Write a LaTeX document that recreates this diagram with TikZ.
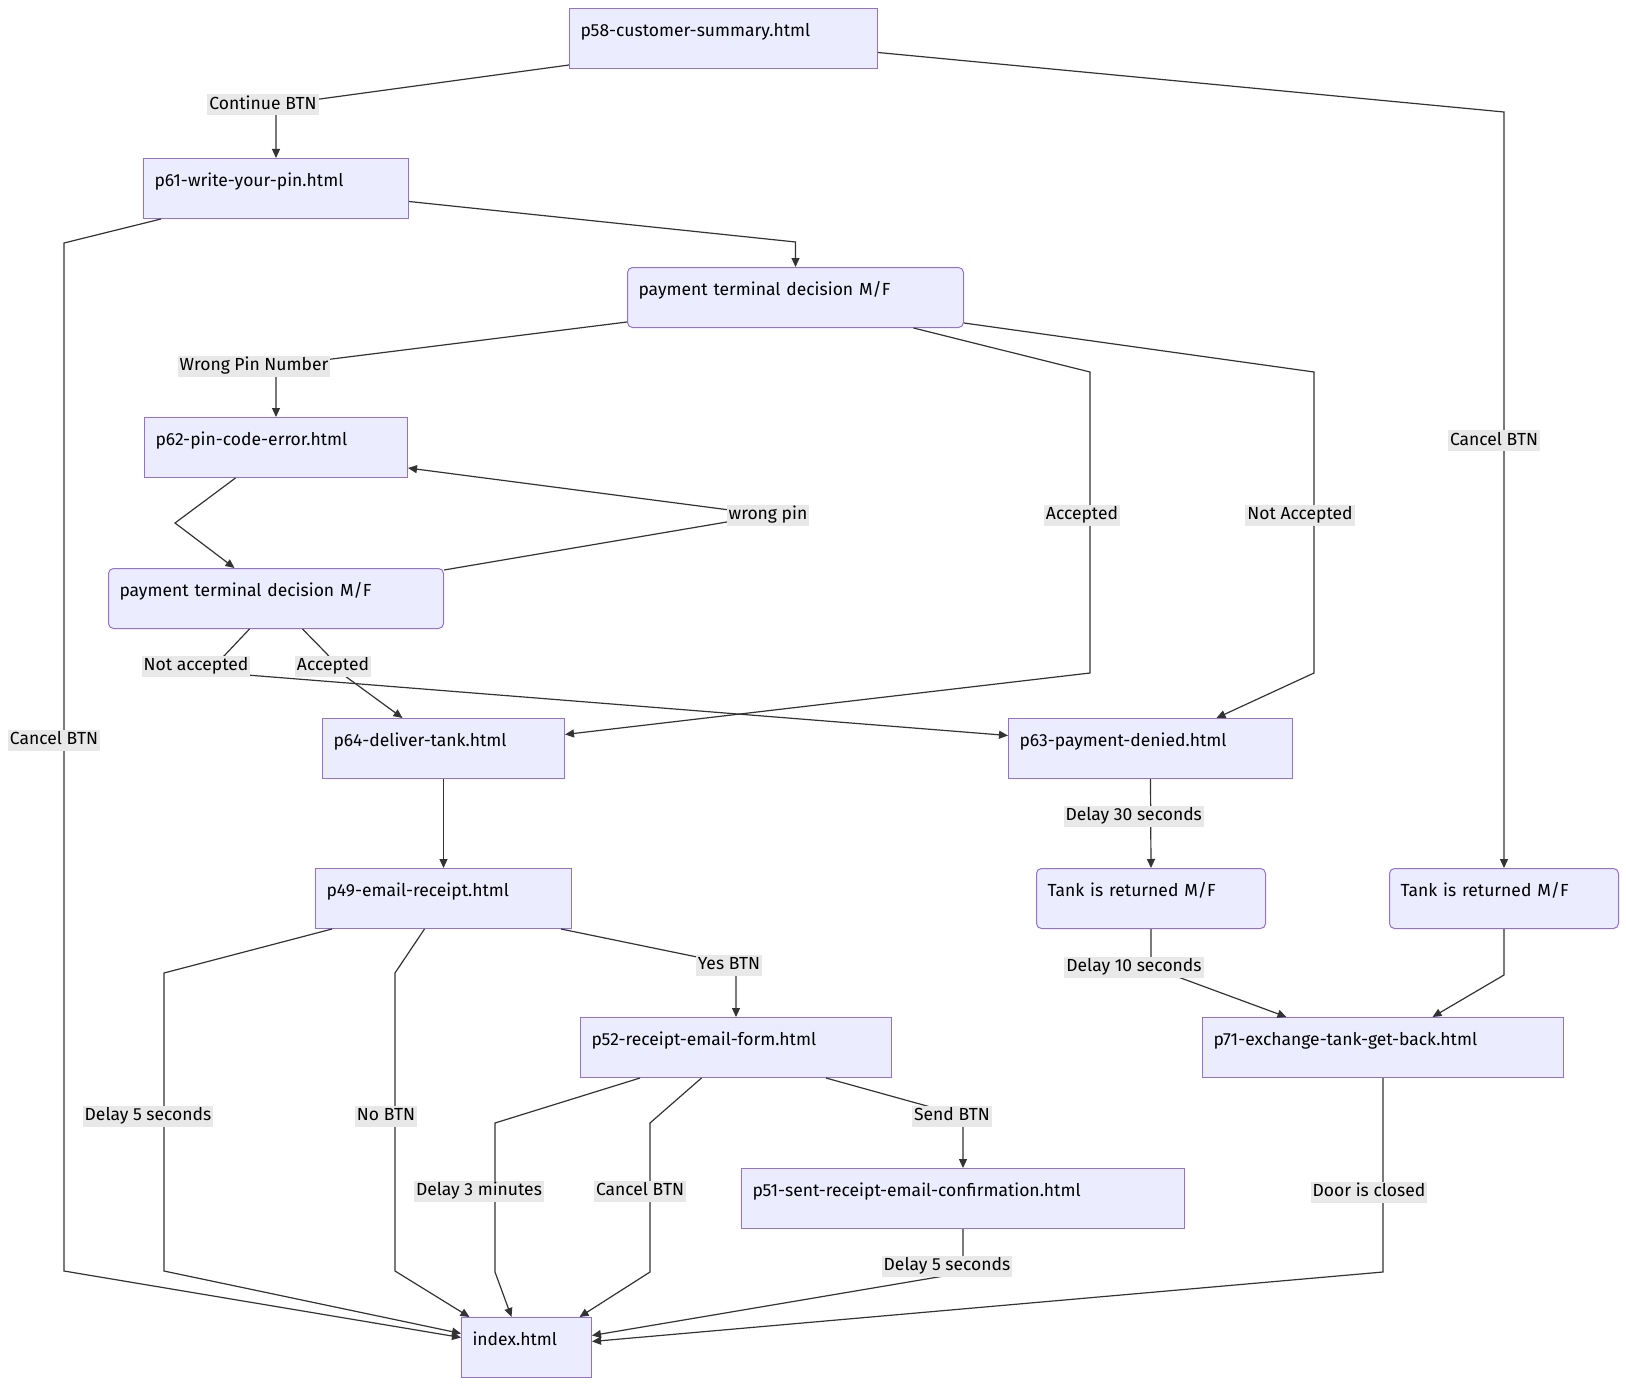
\documentclass[tikz,border=0pt]{standalone}
\usepackage{fontspec}
\setmainfont{Fira Sans}
\usepackage{tikz}
\usetikzlibrary{arrows.meta,calc,positioning}

\definecolor{pagefill}{HTML}{ECECFF}
\definecolor{pageline}{HTML}{9370DB}
\definecolor{edgeline}{HTML}{333333}
\definecolor{labelbg}{HTML}{E8E8E8}

\tikzset{
  page/.style={draw=pageline, fill=pagefill, line width=1pt, anchor=north west,
    inner xsep=11pt, inner ysep=15pt, text height=13pt, text depth=17pt,
    align=left, font=\fontsize{17.5}{21}\selectfont},
  decision/.style={page, rounded corners=5pt},
  flow/.style={draw=edgeline, line width=1.2pt, -{Triangle[length=9pt,width=8pt]}},
  elabel/.style={fill=labelbg, inner xsep=2pt, inner ysep=2pt,
    text height=13pt, text depth=4pt, font=\fontsize{17.5}{21}\selectfont},
}

\begin{document}
\begin{tikzpicture}[x=1pt, y=-1pt]
  % Layout positions (lanes of the long edges)
  \def\xcancelL{64}      % Cancel BTN, far left
  \def\xdelayL{164}      % Delay 5 seconds
  \def\xnobtn{395}       % No BTN
  \def\xaccept{1090}     % Accepted
  \def\xdenied{1314}     % Not Accepted

  \useasboundingbox (0,0) rectangle (1626,1386);

  % Pages
  \node[page, text width=286pt] (p58) at (569,8) {p58-customer-summary.html};
  \node[page, text width=243pt] (p61) at (143,158) {p61-write-your-pin.html};
  \node[decision, text width=314pt] (pay1) at (627,267) {payment terminal decision M/F};
  \node[page, text width=241pt] (p62) at (144,417) {p62-pin-code-error.html};
  \node[decision, text width=313pt] (pay2) at (108,568) {payment terminal decision M/F};
  \node[page, text width=220pt] (p64) at (322,718) {p64-deliver-tank.html};
  \node[page, text width=262pt] (p63) at (1008,718) {p63-payment-denied.html};
  \node[page, text width=234pt] (p49) at (315,868) {p49-email-receipt.html};
  \node[decision, text width=207pt] (tank1) at (1036,868) {Tank is returned M/F};
  \node[decision, text width=207pt] (tank2) at (1389,868) {Tank is returned M/F};
  \node[page, text width=289pt] (p52) at (580,1017) {p52-receipt-email-form.html};
  \node[page, text width=339pt] (p71) at (1202,1017) {p71-exchange-tank-get-back.html};
  \node[page, text width=421pt] (p51) at (741,1168) {p51-sent-receipt-email-confirmation.html};
  \node[page, text width=108pt] (index) at (461,1317) {index.html};

  % Summary and pin
  \draw[flow] ([yshift=4pt]p58.south west) -- (p61.north |- 0,105)
    node[elabel, xshift=-13pt] {Continue BTN} -- (p61.north);
  \draw[flow] ([yshift=-14pt]p58.east) -- (tank2.north |- 0,112)
    -- node[elabel, pos=0.435, xshift=-10pt] {Cancel BTN} (tank2.north);
  \draw[flow] ([yshift=-13pt]p61.east) -- (pay1.north |- 0,242) -- (pay1.north);
  \draw[flow] ([xshift=18pt]p61.south west) -- (\xcancelL,243) -- (\xcancelL,740)
    node[elabel, xshift=-10pt] {Cancel BTN} -- (\xcancelL,1271)
    -- ([yshift=10pt]index.west);

  % First terminal decision
  \draw[flow] ([yshift=6pt]pay1.south west) -- (p62.north |- 0,366)
    node[elabel, xshift=-22pt] {Wrong Pin Number} -- (p62.north);
  \draw[flow] ([xshift=118pt]pay1.south) -- (\xaccept,372) -- (\xaccept,515)
    node[elabel, xshift=-8pt] {Accepted} -- (\xaccept,673)
    -- ([yshift=14pt]p64.east);
  \draw[flow] ([yshift=5pt]pay1.south east) -- (\xdenied,372) -- (\xdenied,515)
    node[elabel, xshift=-14pt] {Not Accepted} -- (\xdenied,673)
    -- ([xshift=66pt]p63.north);

  % Pin error loop
  \draw[flow] ([xshift=-40.5pt]p62.south) -- (175,523) -- ([xshift=-41.5pt]pay2.north);
  \draw[flow] ([yshift=-2pt]pay2.north east) -- (768,515)
    node[elabel] {wrong pin} -- ([yshift=-20.5pt]p62.east);
  \draw[flow] ([xshift=-26.5pt]pay2.south) -- (224,656)
    node[elabel, xshift=-28pt, yshift=-10pt] {Not accepted} -- (247,675)
    -- ([yshift=13pt]p63.west);
  \draw[flow] ([xshift=26.5pt]pay2.south) -- (327,654)
    node[elabel, xshift=6pt, yshift=-12pt] {Accepted} -- (345,676)
    -- ([xshift=-41pt]p64.north);

  % Delivery and receipt
  \draw[flow] (p64.south) -- (p49.north);
  \draw[flow] ([xshift=17pt]p49.south west) -- (\xdelayL,973) -- (\xdelayL,1116)
    node[elabel, xshift=-16pt] {Delay 5 seconds} -- (\xdelayL,1271)
    -- ([yshift=14pt]index.west);
  \draw[flow] ([xshift=-19pt]p49.south) -- (\xnobtn,973) -- (\xnobtn,1116)
    node[elabel, xshift=-9pt] {No BTN} -- (\xnobtn,1271)
    -- ([xshift=-57pt]index.north);
  \draw[flow] ([xshift=-11pt]p49.south east) -- (p52.north |- 0,965)
    node[elabel, xshift=-7pt] {Yes BTN} -- (p52.north);
  \draw[flow] ([xshift=60pt]p52.south west) -- (495,1123) -- (495,1191)
    node[elabel, xshift=-16pt] {Delay 3 minutes} -- (495,1272)
    -- ([xshift=-15pt]index.north);
  \draw[flow] ([xshift=-34.5pt]p52.south) -- (650,1123) -- (650,1191)
    node[elabel, xshift=-10pt] {Cancel BTN} -- (650,1272)
    -- ([xshift=53pt]index.north);
  \draw[flow] ([xshift=-66pt]p52.south east) -- (p51.north |- 0,1116)
    node[elabel, xshift=-11pt] {Send BTN} -- (p51.north);
  \draw[flow] (p51.south) -- ++(0,34)
    node[elabel, xshift=-16pt, yshift=-3pt] {Delay 5 seconds} -- (950,1275)
    -- ([yshift=12pt]index.east);

  % Payment denied and tank return
  \draw[flow] (p63.south) -- node[elabel, pos=0.42, xshift=-17pt] {Delay 30 seconds}
    (tank1.north);
  \draw[flow] (tank1.south) -- ++(0,38)
    node[elabel, xshift=-17pt] {Delay 10 seconds} -- ([xshift=-96.5pt]p71.north);
  \draw[flow] (tank2.south) -- ++(0,46) -- ([xshift=49.5pt]p71.north);
  \draw[flow] (p71.south) -- ++(0,114)
    node[elabel, xshift=-14pt] {Door is closed} -- ++(0,80)
    -- ([yshift=6pt]index.east);
\end{tikzpicture}
\end{document}
